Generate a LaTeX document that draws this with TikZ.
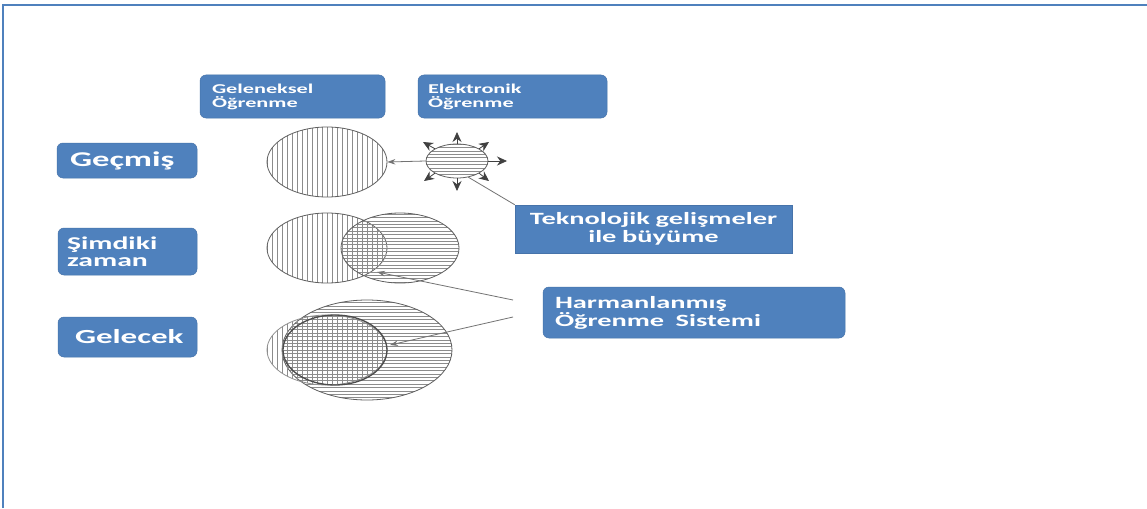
\documentclass[tikz,border=0pt]{standalone}
\usepackage{fontspec}
\setmainfont{Carlito}
\newfontfamily\boxfont[FakeStretch=1.65]{Carlito}
\usetikzlibrary{arrows.meta,shapes.geometric,calc}
\definecolor{ofblue}{RGB}{79,129,189}
\definecolor{ofedge}{RGB}{70,115,170}
\definecolor{hatchgray}{RGB}{140,140,140}
\definecolor{edgegray}{RGB}{95,95,95}
\definecolor{linegray}{RGB}{115,115,115}
\begin{document}
\begin{tikzpicture}[x=1pt,y=-1pt,
  bluebox/.style={fill=ofblue, draw=ofedge, line width=0.5pt, rounded corners=6pt,
    text=white, inner ysep=0pt, align=left},
  squarebox/.style={fill=ofblue, draw=ofedge, line width=0.5pt,
    text=white, inner ysep=0pt, inner xsep=0pt, align=center},
  hatchline/.style={draw=hatchgray, line width=0.55pt},
  vhatch/.style={path picture={
    \foreach \i in {-40,...,40}{
      \draw[hatchline] ([xshift=\i*5pt]path picture bounding box.north) -- ([xshift=\i*5pt]path picture bounding box.south);}}},
  hhatch/.style={path picture={
    \foreach \i in {-40,...,40}{
      \draw[hatchline] ([yshift=\i*3.4pt]path picture bounding box.west) -- ([yshift=\i*3.4pt]path picture bounding box.east);}}},
  blob/.style={ellipse, draw=edgegray, line width=0.8pt, inner sep=0pt},
  ray/.style={draw=black!75, line width=0.8pt, -{Stealth[length=10pt,width=9pt]}},
  conn/.style={draw=linegray, line width=0.8pt},
  connarrow/.style={conn, -{Stealth[length=8pt,width=5.5pt]}}
]
\useasboundingbox (0,0) rectangle (1147,508);
\fill[white] (0,0) rectangle (1147,508);
\draw[ofblue, line width=2pt] (2.5,508) -- (2.5,5) -- (1147,5);

% header boxes
\node[bluebox, minimum width=185pt, minimum height=43pt, inner xsep=12pt, text width=161pt,
  font={\boxfont\bfseries\fontsize{13.5}{14}\selectfont}] (gel) at (292.5,96.5) {Geleneksel\\Öğrenme};
\node[bluebox, minimum width=189pt, minimum height=43pt, inner xsep=10pt, text width=169pt,
  font={\boxfont\bfseries\fontsize{13.5}{14}\selectfont}] (ele) at (512.5,96.5) {Elektronik\\Öğrenme};

% row labels
\node[bluebox, minimum width=140pt, minimum height=35pt, inner xsep=13pt, text width=114pt,
  font={\boxfont\bfseries\fontsize{21}{21}\selectfont}] (gec) at (127,160.5) {Geçmiş};
\node[bluebox, minimum width=139pt, minimum height=47pt, inner xsep=9pt, text width=121pt,
  font={\boxfont\bfseries\fontsize{18}{17}\selectfont}] (sim) at (127.5,251.5) {Şimdiki\\zaman};
\node[bluebox, minimum width=139pt, minimum height=40pt, inner xsep=17pt, text width=105pt,
  font={\boxfont\bfseries\fontsize{20}{20}\selectfont}] (gelc) at (127.5,337) {Gelecek};

% right boxes
\node[squarebox, minimum width=277pt, minimum height=48pt, text width=277pt,
  font={\boxfont\bfseries\fontsize{17.2}{18}\selectfont}] (tek) at (653.5,229) {Teknolojik gelişmeler\\ile büyüme};
\node[bluebox, minimum width=302pt, minimum height=51pt, inner xsep=12pt, text width=278pt,
  font={\boxfont\bfseries\fontsize{17.2}{18}\selectfont}] (har) at (694,312.5) {Harmanlanmış\\Öğrenme\ \ Sistemi};

% past row
\node[blob, vhatch, minimum width=120pt, minimum height=70pt] (e1) at (327,162) {};
\node[blob, hhatch, minimum width=62pt, minimum height=34pt] (s) at (457,161) {};
\draw[connarrow] (s.west) -- (e1.east);
\coordinate (r90) at (457,132);
\coordinate (r270) at (457,191);
\coordinate (r0) at (507,161);
\coordinate (r29) at (489,142);
\coordinate (r331) at (489,181);
\coordinate (r151) at (423,142);
\coordinate (r209) at (424,181);
\foreach \a in {90,270,0,29,331,151,209}{
  \draw[ray] (s.\a) -- (r\a);
}
\draw[conn] (s.305) -- (tek.north west);

% present row
\node[blob, vhatch, minimum width=120pt, minimum height=70pt] (ma) at (327,248) {};
\node[blob, hhatch, minimum width=118pt, minimum height=70pt] (mb) at (400,248) {};

% future row
\node[blob, hhatch, minimum width=170pt, minimum height=100pt] (fb) at (367,350) {};
\node[blob, vhatch, draw=edgegray!70, minimum width=120pt, minimum height=70pt] (fa) at (327,350) {};
\node[ellipse, draw=black!70, line width=1.3pt, inner sep=0pt, minimum width=104pt, minimum height=70pt] (fd) at (335,350) {};

% blended arrows
\coordinate (h1) at (513,300);
\coordinate (h2) at (513,317);
\coordinate (t1) at (377,272);
\coordinate (t2) at (390,345);
\draw[connarrow] (h1) -- (t1);
\draw[connarrow] (h2) -- (t2);
\end{tikzpicture}
\end{document}
